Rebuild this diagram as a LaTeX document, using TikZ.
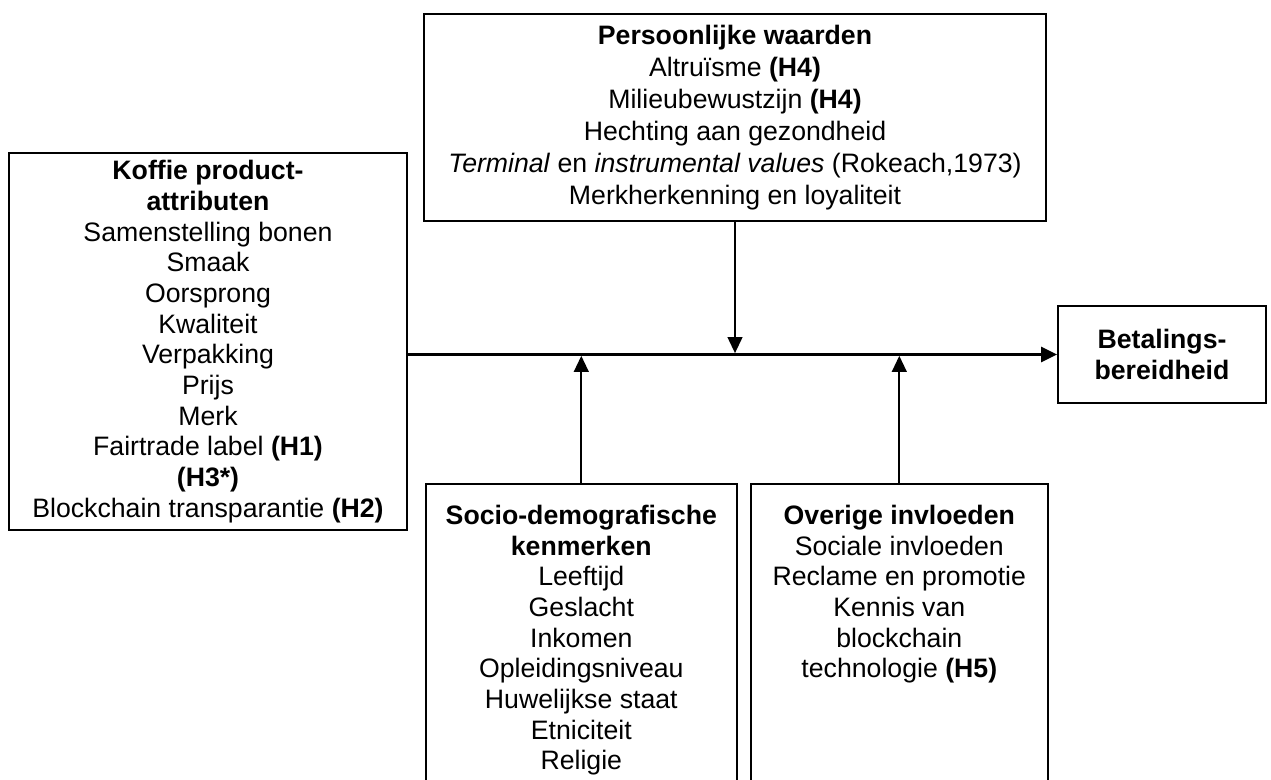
\documentclass[tikz,border=0pt]{standalone}
\usepackage{fontspec}
\setmainfont{Liberation Sans}
\usetikzlibrary{positioning, arrows.meta, calc}

\begin{document}
\begin{tikzpicture}[
  x=0.75pt, y=-0.75pt,
  every node/.style={font=\fontsize{20}{23}\selectfont, align=center},
  box/.style={draw, line width=1.2pt, inner sep=0pt},
  txt/.style={inner sep=0pt, anchor=north},
  link/.style={line width=1.5pt, shorten >=1pt, -{Triangle[length=12pt, width=11pt]}},
  mainlink/.style={line width=2.25pt, -{Triangle[length=12pt, width=11pt]}},
]
  \clip (0,0) rectangle (1271,780);

  % Boxes
  \node[box, minimum width=298.5pt, minimum height=282.75pt] (attr) at (208,341.5)
    {\textbf{Koffie product-}\\ \textbf{attributen}\\ Samenstelling bonen\\ Smaak\\
     Oorsprong\\ Kwaliteit\\ Verpakking\\ Prijs\\ Merk\\ Fairtrade label \textbf{(H1)}\\
     \textbf{(H3*)}\\ Blockchain transparantie \textbf{(H2)}};
  \node[box, minimum width=466.5pt, minimum height=155.25pt,
        font=\fontsize{20}{24}\selectfont] (vals) at (735,117.5)
    {\textbf{Persoonlijke waarden}\\ Altruïsme \textbf{(H4)}\\ Milieubewustzijn \textbf{(H4)}\\
     Hechting aan gezondheid\\ \textit{Terminal} en \textit{instrumental values} (Rokeach,1973)\\
     Merkherkenning en loyaliteit};
  \node[box, minimum width=156pt, minimum height=72.75pt] (pay) at (1162,354.5)
    {\textbf{Betalings-}\\ \textbf{bereidheid}};
  \node[box, minimum width=233.25pt, minimum height=230.25pt, anchor=north west] (socio) at (425,483) {};
  \node[txt] (sociotxt) at ([yshift=-16.5pt]socio.north)
    {\textbf{Socio-demografische}\\ \textbf{kenmerken}\\ Leeftijd\\ Geslacht\\ Inkomen\\
     Opleidingsniveau\\ Huwelijkse staat\\ Etniciteit\\ Religie};
  \node[box, minimum width=222.75pt, minimum height=230.25pt, anchor=north west] (other) at (750,483) {};
  \node[txt] (othertxt) at ([yshift=-16.5pt]other.north)
    {\textbf{Overige invloeden}\\ Sociale invloeden\\ Reclame en promotie\\ Kennis van\\
     blockchain\\ technologie \textbf{(H5)}};

  % Main arrow
  \draw[mainlink] (attr.east |- pay.west) -- (pay.west);

  % Influences onto the main arrow
  \coordinate (hubV) at (vals.south |- pay.west);
  \coordinate (hubS) at (socio.north |- pay.west);
  \coordinate (hubO) at (other.north |- pay.west);
  \draw[link] (vals.south) -- (hubV);
  \draw[link] (socio.north) -- (hubS);
  \draw[link] (other.north) -- (hubO);
\end{tikzpicture}
\end{document}
